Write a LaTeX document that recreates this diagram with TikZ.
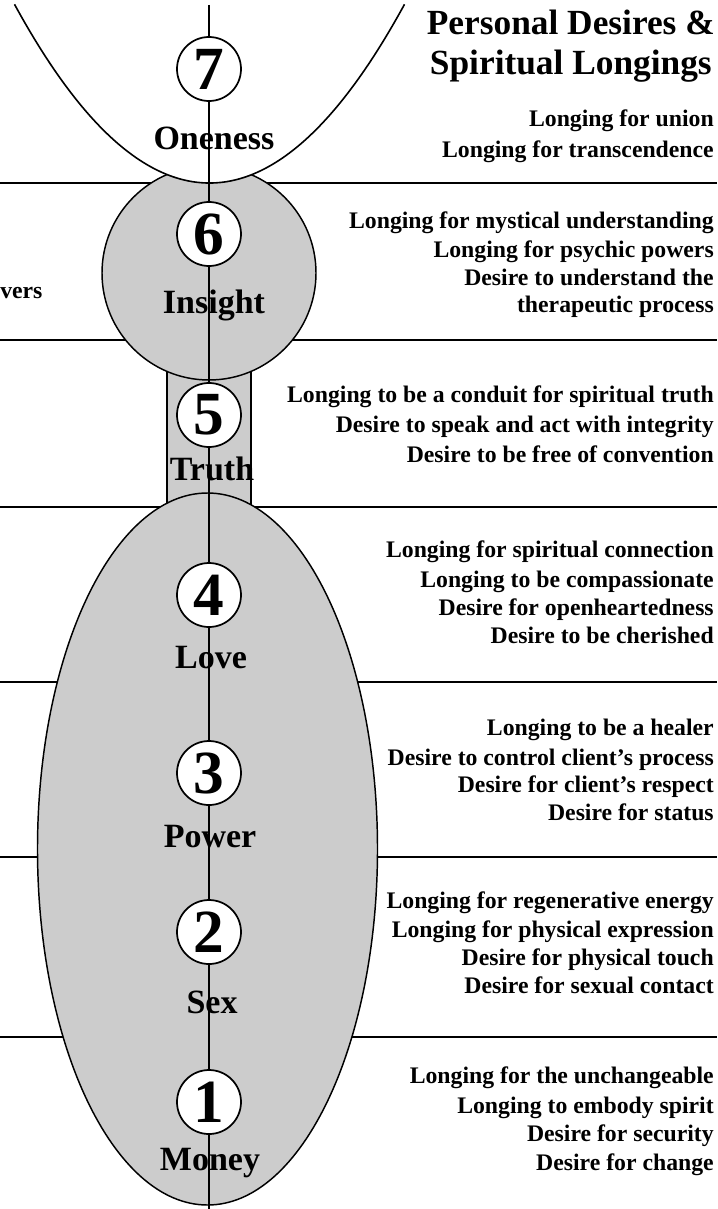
\documentclass[tikz,border=0pt]{standalone}
\usepackage{fontspec}
\setmainfont{Liberation Serif}

\begin{document}
\begin{tikzpicture}[x=0.75pt,y=0.75pt,yscale=-1,xscale=1,
  band/.style={line width=1.2pt},
  shade/.style={draw,line width=1.1pt,fill={rgb, 255:red, 204; green, 204; blue, 204 }},
  num/.style={circle,draw,line width=1.3pt,fill=white,minimum size=48pt,inner sep=0pt,font=\fontsize{46}{46}\selectfont\bfseries},
  lbl/.style={anchor=base,inner sep=0.75pt,font=\fontsize{25.5}{25.5}\selectfont\bfseries},
  txt/.style={anchor=base east,inner sep=0.75pt,font=\fontsize{17.8}{17.8}\selectfont\bfseries},
  ttl/.style={anchor=base east,inner sep=0.75pt,font=\fontsize{26.5}{26.5}\selectfont\bfseries}]
\useasboundingbox (0,0) rectangle (717,1209);

%Straight Lines
\draw [band] (0,183) -- (717,183) ;
%Straight Lines
\draw [band] (0,340) -- (717,340) ;
%Straight Lines
\draw [band] (0,507) -- (717,507) ;
%Straight Lines
\draw [band] (0,682) -- (717,682) ;
%Straight Lines
\draw [band] (0,857) -- (717,857) ;
%Straight Lines
\draw [band] (0,1037) -- (717,1037) ;

%Shape: Rectangle
\draw [shade] (167,370) rectangle (251,505) ;
%Shape: Circle
\draw [shade] (209,273) circle [x radius= 107, y radius= 107] ;
%Shape: Ellipse
\draw [shade] (207.5,849) circle [x radius= 170, y radius= 356] ;

%Curve Lines
\fill [white] (14.5,4.3) .. controls (144.5,242.6) and (274.5,242.6) .. (404.5,4.3) -- cycle ;
\draw [band] (14.5,4.3) .. controls (144.5,242.6) and (274.5,242.6) .. (404.5,4.3) ;

%Shape: Circle
\node [num] (c7) at (209,69) {7};
\node [num] (c6) at (209,234) {6};
\node [num] (c5) at (209,415) {5};
\node [num] (c4) at (209,595) {4};
\node [num] (c3) at (209,773) {3};
\node [num] (c2) at (209,932) {2};
\node [num] (c1) at (209,1102) {1};

\coordinate (top) at (209,5);
\coordinate (bot) at (209,1209);
%Straight Lines
\draw [band] (top) -- (c7) (c7) -- (c6) (c6) -- (c5) (c5) -- (c4) (c4) -- (c3) (c3) -- (c2) (c2) -- (c1) (c1) -- (bot) ;

% Text Node
\draw (214,150) node [lbl] (l7) {Oneness};
% Text Node
\draw (214,313) node [lbl] (l6) {Insight};
% Text Node
\draw (212,480) node [lbl] (l5) {Truth};
% Text Node
\draw (211,668) node [lbl] (l4) {Love};
% Text Node
\draw (210,847) node [lbl] (l3) {Power};
% Text Node
\draw (212,1013) node [lbl] (l2) {Sex};
% Text Node
\draw (210,1170) node [lbl] (l1) {Money};

% Text Node
\draw (716,35) node [ttl] (t1) {Personal Desires \&};
% Text Node
\draw (713,75) node [ttl] (t2) {Spiritual Longings};

% Text Node
\draw (715,127) node [txt] (a1) {Longing for union};
\draw (715,157) node [txt] (a2) {Longing for transcendence};
% Text Node
\draw (715,228) node [txt] (b1) {Longing for mystical understanding};
\draw (715,257) node [txt] (b2) {Longing for psychic powers};
\draw (715,285) node [txt] (b3) {Desire to understand the};
\draw (715,312) node [txt] (b4) {therapeutic process};
% Text Node
\draw (715,402) node [txt] (d1) {Longing to be a conduit for spiritual truth};
\draw (715,432) node [txt] (d2) {Desire to speak and act with integrity};
\draw (715,462) node [txt] (d3) {Desire to be free of convention};
% Text Node
\draw (715,557) node [txt] (e1) {Longing for spiritual connection};
\draw (715,587) node [txt] (e2) {Longing to be compassionate};
\draw (715,615) node [txt] (e3) {Desire for openheartedness};
\draw (715,643) node [txt] (e4) {Desire to be cherished};
% Text Node
\draw (715,735) node [txt] (f1) {Longing to be a healer};
\draw (715,765) node [txt] (f2) {Desire to control client's process};
\draw (715,792) node [txt] (f3) {Desire for client's respect};
\draw (715,820) node [txt] (f4) {Desire for status};
% Text Node
\draw (715,908) node [txt] (g1) {Longing for regenerative energy};
\draw (715,937) node [txt] (g2) {Longing for physical expression};
\draw (715,965) node [txt] (g3) {Desire for physical touch};
\draw (715,993) node [txt] (g4) {Desire for sexual contact};
% Text Node
\draw (715,1083) node [txt] (h1) {Longing for the unchangeable};
\draw (715,1113) node [txt] (h2) {Longing to embody spirit};
\draw (715,1141) node [txt] (h3) {Desire for security};
\draw (715,1170) node [txt] (h4) {Desire for change};

% Text Node
\draw (0,298) node [anchor=base west,inner sep=0pt,font=\fontsize{17.8}{17.8}\selectfont\bfseries] (pw) {vers};

\end{tikzpicture}
\end{document}
